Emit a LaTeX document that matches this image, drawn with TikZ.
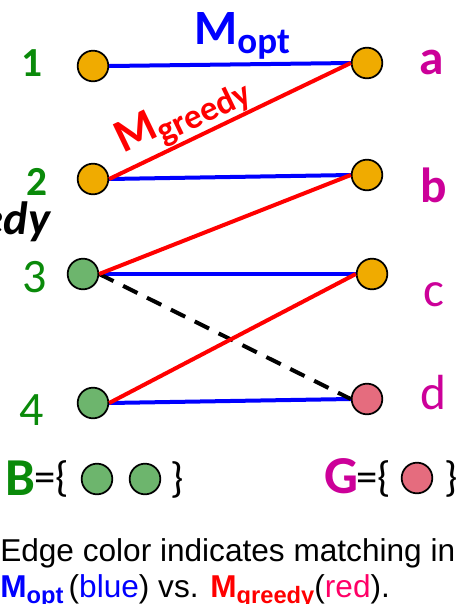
\documentclass[tikz,border=0pt]{standalone}
\usepackage{fontspec}
\setmainfont{Carlito}
\newfontfamily\capfont{Liberation Sans}
\usetikzlibrary{positioning}
\definecolor{vorange}{HTML}{F0AB00}
\definecolor{vgreen}{HTML}{6DB56D}
\definecolor{vpink}{HTML}{E56C7E}
\definecolor{lgreen}{HTML}{0A8A0A}
\definecolor{lmagenta}{HTML}{CC0099}
\definecolor{redtxt}{HTML}{FF0066}
\newcommand{\fsz}[1]{\fontsize{#1}{#1}\selectfont}
\newcommand{\lowsub}[1]{\raisebox{-0.2em}{\scalebox{0.75}{#1}}}

\begin{document}
\begin{tikzpicture}[x=0.75pt, y=-0.75pt,
    vtx/.style={circle, draw=black, line width=1.3pt, minimum size=23pt, inner sep=0pt},
    lftnum/.style={text=lgreen, font=\fsz{31pt}\bfseries},
    lftbig/.style={text=lgreen, font=\fsz{36pt}},
    rgtlet/.style={text=lmagenta, font=\fsz{37pt}},
    optedge/.style={blue, line width=3pt},
    grdedge/.style={red, line width=3pt},
    freeedge/.style={black, line width=3pt, dash pattern=on 12pt off 8pt},
    setsym/.style={font=\fsz{32pt}, inner sep=0pt}]
    \useasboundingbox (0,0) rectangle (459,604);

    % left side
    \node[vtx, fill=vorange] (n1) at (93,66) {};
    \node[vtx, fill=vorange] (n2) at (93,179) {};
    \node[vtx, fill=vgreen] (n3) at (83,274) {};
    \node[vtx, fill=vgreen] (n4) at (93,403) {};
    % right side
    \node[vtx, fill=vorange] (na) at (367,63) {};
    \node[vtx, fill=vorange] (nb) at (367,175) {};
    \node[vtx, fill=vorange] (nc) at (372,274) {};
    \node[vtx, fill=vpink] (nd) at (367,399) {};

    \node[lftnum] (l1) at (32,63) {1};
    \node[lftnum] (l2) at (37,182) {2};
    \node[lftbig] (l3) at (35,277) {3};
    \node[lftbig] (l4) at (32,410) {4};
    \node[rgtlet, font=\fsz{37pt}\bfseries] (la) at (432,62) {a};
    \node[rgtlet, font=\fsz{37pt}\bfseries] (lb) at (434,185) {b};
    \node[rgtlet] (lc) at (434,295) {c};
    \node[rgtlet] (ld) at (433,393) {d};

    \node[anchor=east, font=\fsz{35pt}\bfseries\itshape] (cut) at (55,222) {edy};

    % edges
    \draw[optedge] (n1.east) -- node[above, pos=0.55, inner sep=2pt, font=\fsz{37pt}\bfseries] (mopt) {M\lowsub{opt}} (na.west);
    \draw[optedge] (n2.east) -- (nb.west);
    \draw[optedge] (n3.east) -- (nc.west);
    \draw[optedge] (n4.east) -- (nd.west);
    \draw[freeedge] (n3.east) -- (nd.west);
    \draw[grdedge] (n2.east) -- node[sloped, above, pos=0.35, inner sep=0pt, font=\fsz{35pt}\bfseries] (mgrd) {M\lowsub{greedy}} (na.west);
    \draw[grdedge] (n3.east) -- (nb.west);
    \draw[grdedge] (n4.east) -- (nc.west);

    % the two sets
    \node[text=lgreen, font=\fsz{40pt}\bfseries, inner sep=0pt] (bname) at (20,478) {B};
    \node[setsym, anchor=west] (bopen) at (34,479) {=\{};
    \node[vtx, fill=vgreen] (b1) at (97,479) {};
    \node[vtx, fill=vgreen] (b2) at (145,479) {};
    \node[setsym] (bclose) at (177,480) {\}};
    \node[text=lmagenta, font=\fsz{40pt}\bfseries, inner sep=0pt] (gname) at (341,476) {G};
    \node[setsym, anchor=west] (gopen) at (356,479) {=\{};
    \node[vtx, fill=vpink] (g1) at (417,478) {};
    \node[setsym] (gclose) at (451,479) {\}};

    % caption
    \node[anchor=base west, inner sep=0pt, font=\capfont\fsz{23.7pt}] (cap1) at (0,561) {Edge color indicates matching in};
    \node[anchor=base west, inner sep=0pt, font=\capfont\fsz{23.7pt}] (cap2) at (0,597)
      {{\bfseries\color{blue}M\lowsub{opt}}\,({\color{blue}blue}) vs. {\bfseries\color{red}M\lowsub{greedy}}({\color{redtxt}red}).};
\end{tikzpicture}
\end{document}
